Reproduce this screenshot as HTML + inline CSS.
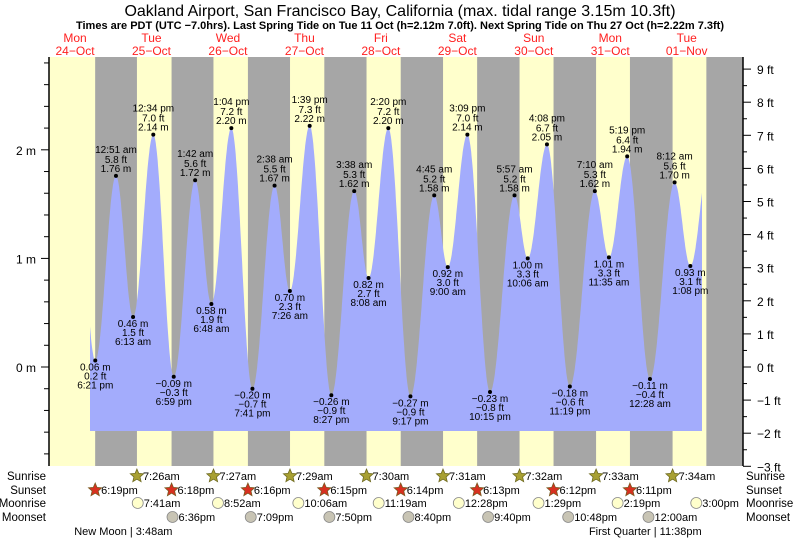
<!DOCTYPE html>
<html><head><meta charset="utf-8"><style>
body{margin:0;background:#fff}
svg{display:block;font-family:"Liberation Sans",Arial,sans-serif}
</style></head><body>
<svg id="chart" width="793" height="539" viewBox="0 0 793 539" xmlns="http://www.w3.org/2000/svg">
<text x="400" y="16" font-size="16" text-anchor="middle">Oakland Airport, San Francisco Bay, California (max. tidal range 3.15m 10.3ft)</text>
<text x="400" y="29" font-size="11" font-weight="bold" text-anchor="middle">Times are PDT (UTC −7.0hrs). Last Spring Tide on Tue 11 Oct (h=2.12m 7.0ft). Next Spring Tide on Thu 27 Oct (h=2.22m 7.3ft)</text>
<g id="bg"></g><g id="tide"></g><g id="labels"></g><g id="axes"></g><g id="bottom"></g>
</svg>
<script>
// ---- data ----
const dayNames = ["Mon","Tue","Wed","Thu","Fri","Sat","Sun","Mon","Tue"];
const dayDates = ["24\u2212Oct","25\u2212Oct","26\u2212Oct","27\u2212Oct","28\u2212Oct","29\u2212Oct","30\u2212Oct","31\u2212Oct","01\u2212Nov"];
const tideDay = [0,1,1,1,1,2,2,2,2,3,3,3,3,4,4,4,4,5,5,5,5,6,6,6,6,7,7,7,8,8,8];
const tideTime = ["6:21 pm","12:51 am","6:13 am","12:34 pm","6:59 pm","1:42 am","6:48 am","1:04 pm","7:41 pm","2:38 am","7:26 am","1:39 pm","8:27 pm","3:38 am","8:08 am","2:20 pm","9:17 pm","4:45 am","9:00 am","3:09 pm","10:15 pm","5:57 am","10:06 am","4:08 pm","11:19 pm","7:10 am","11:35 am","5:19 pm","12:28 am","8:12 am","1:08 pm"];
const tideM = [0.06,1.76,0.46,2.14,-0.09,1.72,0.58,2.20,-0.20,1.67,0.70,2.22,-0.26,1.62,0.82,2.20,-0.27,1.58,0.92,2.14,-0.23,1.58,1.00,2.05,-0.18,1.62,1.01,1.94,-0.11,1.70,0.93];
const tideFt = [0.2,5.8,1.5,7.0,-0.3,5.6,1.9,7.2,-0.7,5.5,2.3,7.3,-0.9,5.3,2.7,7.2,-0.9,5.2,3.0,7.0,-0.8,5.2,3.3,6.7,-0.6,5.3,3.3,6.4,-0.4,5.6,3.1];
const sunriseDay = [1,2,3,4,5,6,7,8];
const sunriseTime = ["7:26am","7:27am","7:29am","7:30am","7:31am","7:32am","7:33am","7:34am"];
const sunsetDay = [0,1,2,3,4,5,6,7,8];
const sunsetTime = ["6:19pm","6:18pm","6:16pm","6:15pm","6:14pm","6:13pm","6:12pm","6:11pm","6:10pm"];
const moonriseDay = [1,2,3,4,5,6,7,8];
const moonriseTime = ["7:41am","8:52am","10:06am","11:19am","12:28pm","1:29pm","2:19pm","3:00pm"];
const moonsetDay = [1,2,3,4,5,6,8];
const moonsetTime = ["6:36pm","7:09pm","7:50pm","8:40pm","9:40pm","10:48pm","12:00am"];
const phaseNames = ["New Moon | 3:48am","First Quarter | 11:38pm"];
const phaseDay = [1,7];
const phaseTime = ["3:48am","11:38pm"];
// ---- scales ----
const NS="http://www.w3.org/2000/svg";
const PL=49, PR=743, PT=57, PB=466;
const X0=36.8, DW=76.46;
const Y0FT=367, PXFT=33.1;
function xDay(d){return X0+d*DW;}
function yFt(f){return Y0FT-f*PXFT;}
function yM(m){return yFt(m*3.28084);}
function hrs(s){const m=s.match(/(\d+):(\d+)\s*(am|pm)/);let h=+m[1]%12;if(m[3]==="pm")h+=12;return h+(+m[2])/60;}
function mk(tag,attrs,parent,text){const e=document.createElementNS(NS,tag);for(const k in attrs)e.setAttribute(k,attrs[k]);if(text!==undefined)e.textContent=text;parent.appendChild(e);return e;}
const bg=document.getElementById('bg'),tide=document.getElementById('tide'),lab=document.getElementById('labels'),ax=document.getElementById('axes'),bot=document.getElementById('bottom');
let r=mk('rect',{x:PL,y:PT,width:PR-PL,height:PB-PT,fill:'#ffffcc'},bg);


for(let i=0;i<sunsetDay.length;i++){
  const s=xDay(sunsetDay[i]+hrs(sunsetTime[i])/24);
  let e=PR;
  if(i<sunriseDay.length) e=xDay(sunriseDay[i]+hrs(sunriseTime[i])/24);
  const n=mk('rect',{x:s,y:PT,width:Math.min(e,PR)-s,height:PB-PT,fill:'#a6a6a6'},bg);
  
  
}
for(let i=0;i<dayNames.length;i++){
  const x=xDay(i+0.5);
  const t=mk('text',{x:x,y:42,'font-size':12,fill:'#ff2020','text-anchor':'middle'},bg,dayNames[i]);
  
  
  const t2=mk('text',{x:x,y:55,'font-size':12,fill:'#ff2020','text-anchor':'middle'},bg,dayDates[i]);
  
  
}
const tD=tideDay.map((d,i)=>d+hrs(tideTime[i])/24);
const ext=[{d:tD[0]-0.265,m:2.05}].concat(tD.map((d,i)=>({d:d,m:tideM[i]}))).concat([{d:tD[tD.length-1]+0.265,m:2.02}]);
const dStart=(90-X0)/DW, dEnd=(702-X0)/DW, yBase=431;
function level(d){for(let i=0;i<ext.length-1;i++){const a=ext[i],b=ext[i+1];if(d>=a.d&&d<=b.d){const f=(d-a.d)/(b.d-a.d);return a.m+(b.m-a.m)*(1-Math.cos(Math.PI*f))/2;}}return ext[ext.length-1].m;}
let p='M'+xDay(dStart).toFixed(1)+','+yBase;
for(let d=dStart;d<=dEnd+1e-9;d+=0.005){p+=' L'+xDay(d).toFixed(1)+','+yM(level(d)).toFixed(1);}
p+=' L'+xDay(dEnd).toFixed(1)+','+yM(level(dEnd)).toFixed(1)+' L'+xDay(dEnd).toFixed(1)+','+yBase+' Z';
const area=mk('path',{d:p,fill:'#a3acfc'},tide);


for(let i=0;i<tD.length;i++){
  const x=xDay(tD[i]),y=yM(tideM[i]);
  const high=(i+1<tD.length?tideM[i]>tideM[i+1]:tideM[i]>tideM[i-1]);
  const c=mk('circle',{cx:x,cy:y,r:2,fill:'#000'},lab);
  
  
  const mTxt=(tideM[i]<0?'\u2212'+Math.abs(tideM[i]).toFixed(2):tideM[i].toFixed(2))+' m';
  const fTxt=(tideFt[i]<0?'\u2212'+Math.abs(tideFt[i]).toFixed(1):tideFt[i].toFixed(1))+' ft';
  const lines=high?[[tideTime[i],-23],[fTxt,-13],[mTxt,-4]]:[[mTxt,10],[fTxt,19],[tideTime[i],28]];
  for(const [s,dy] of lines){
    const t=mk('text',{x:x,y:y+dy,'font-size':10,'text-anchor':'middle',fill:'#000'},lab,s);
    
    
  }
}
mk('line',{x1:PL,y1:PT,x2:PL,y2:PB,stroke:'#000','stroke-width':1.5},ax);
mk('line',{x1:PR,y1:PT,x2:PR,y2:PB,stroke:'#000','stroke-width':1.5},ax);
for(let k=-5;k<=14;k++){const m=k*0.2,y=yM(m);if(y<PT||y>PB)continue;
  mk('line',{x1:PL-(k%5===0?8:5),y1:y,x2:PL,y2:y,stroke:'#000'},ax);
  if(k%5===0){const t=mk('text',{x:36,y:y+5,'font-size':12,'text-anchor':'end'},ax,(m<0?'\u2212':'')+Math.round(Math.abs(m))+' m');
    
    }
}
for(let k=-6;k<=18;k++){const f=k/2,y=yFt(f);if(y<PT||y>PB+1)continue;
  mk('line',{x1:PR,y1:y,x2:PR+(k%2===0?8:4),y2:y,stroke:'#000'},ax);
  if(k%2===0){const t=mk('text',{x:757,y:y+5,'font-size':12},ax,(f<0?'\u2212':'')+Math.abs(f)+' ft');
    
    }
}
const rowNames=["Sunrise","Sunset","Moonrise","Moonset"],rowY=[480,494,507,521];
rowNames.forEach((n,i)=>{
  let t=mk('text',{x:46,y:rowY[i],'font-size':11.5,'text-anchor':'end'},bot,n);
  
  
  t=mk('text',{x:746,y:rowY[i],'font-size':11.5},bot,n);
  
  
});
function star(cx,cy,fill,stroke){let s='';for(let k=0;k<10;k++){const a=-Math.PI/2+k*Math.PI/5,rr=k%2?3.2:7;s+=(cx+rr*Math.cos(a)).toFixed(1)+','+(cy+rr*Math.sin(a)).toFixed(1)+' ';}return mk('polygon',{points:s,fill:fill,stroke:stroke,'stroke-width':0.8},bot);}
function row(days,times,ri,kind){
  for(let i=0;i<days.length;i++){
    const x=xDay(days[i]+hrs(times[i])/24),cy=rowY[ri]-4;
    if(x>PR)continue;
    let ic;
    if(kind==='sr')ic=star(x,cy,'#a8a032','#6e6a20');
    else if(kind==='ss')ic=star(x,cy,'#d83020','#7a5a20');
    else ic=mk('circle',{cx:x,cy:cy,r:5.5,fill:kind==='mr'?'#ffffcc':'#c8c4b4',stroke:'#888','stroke-width':0.8},bot);
    
    
    const t=mk('text',{x:x+6,y:rowY[ri],'font-size':11},bot,times[i]);
    
    
  }
}
row(sunriseDay,sunriseTime,0,'sr');
row(sunsetDay.slice(0,8),sunsetTime.slice(0,8),1,'ss');
row(moonriseDay,moonriseTime,2,'mr');
row(moonsetDay,moonsetTime,3,'ms');
for(let i=0;i<phaseNames.length;i++){
  const t=mk('text',{x:xDay(phaseDay[i]+hrs(phaseTime[i])/24)-2,y:535,'font-size':11,'text-anchor':'middle'},bot,phaseNames[i]);
  
  
}
</script>
</body></html>
